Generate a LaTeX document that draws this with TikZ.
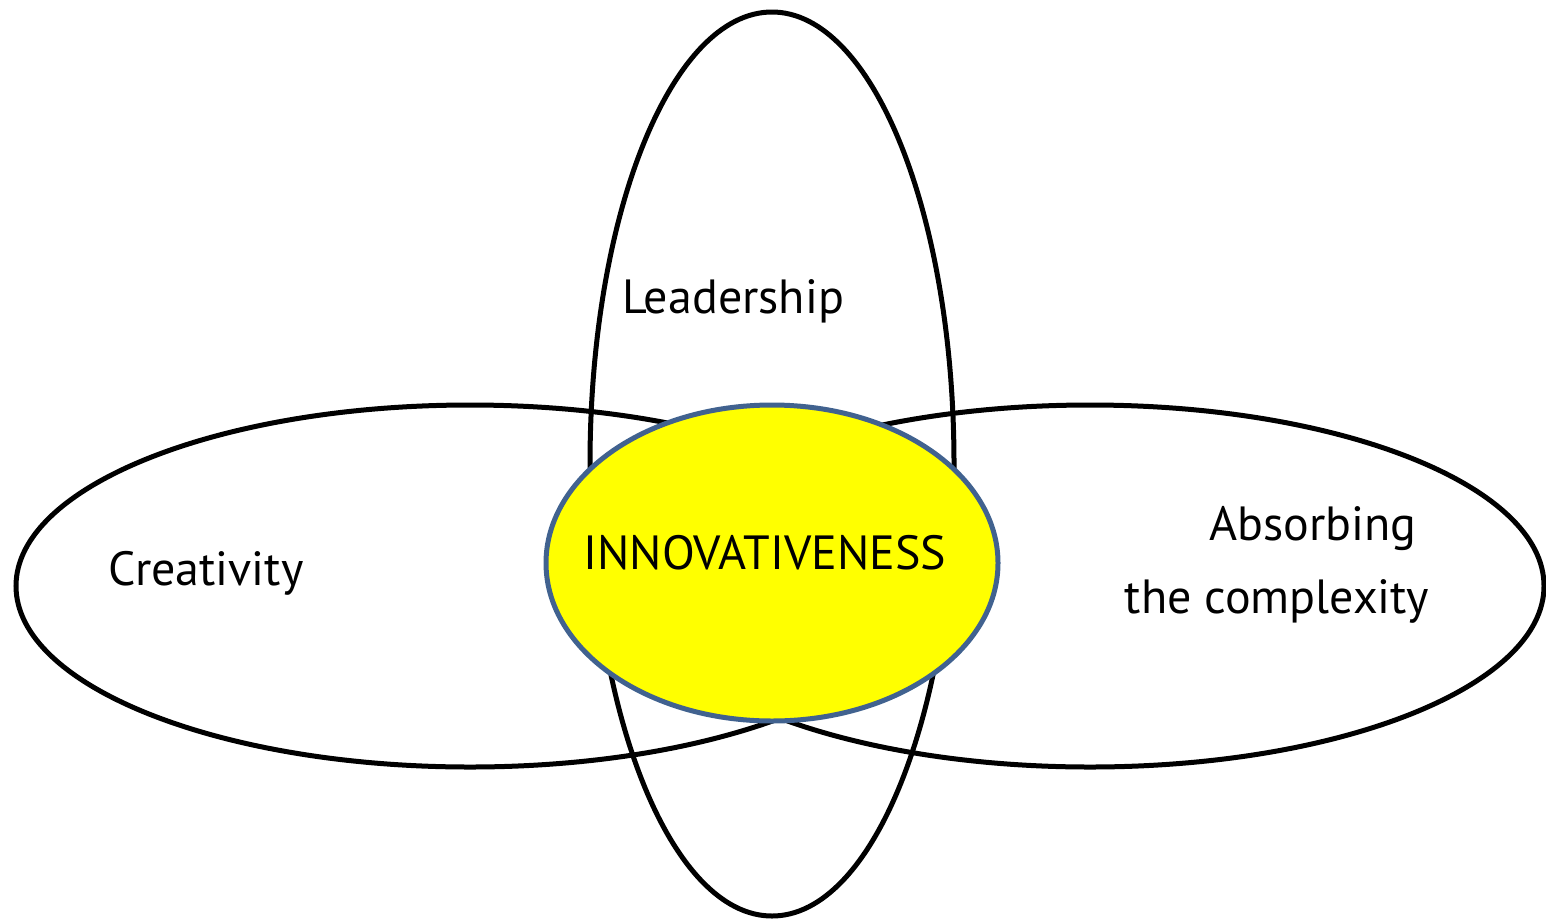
\documentclass[tikz,border=0pt]{standalone}
\usepackage{fontspec}
\setmainfont{PT Sans}
\definecolor{rimblue}{HTML}{41628F}
\definecolor{coreyellow}{HTML}{FFFF00}
\begin{document}
\begin{tikzpicture}[x=1pt,y=-1pt,
  petal/.style={draw=black,line width=5pt},
  core/.style={draw=rimblue,fill=coreyellow,line width=5pt},
  lbl/.style={font=\fontsize{48}{58}\selectfont,inner sep=0pt,anchor=base}]
\useasboundingbox (0,0) rectangle (1546,919);
\draw[petal] (470,586) ellipse [x radius=454, y radius=181];
\draw[petal] (1090,586) ellipse [x radius=454, y radius=181];
\draw[petal] (772,464) ellipse [x radius=182, y radius=452];
\draw[core] (772,563) ellipse [x radius=226, y radius=158];
\node[lbl] (lead) at (733,313) {Leadership};
\node[lbl] (crea) at (206,585) {Creativity};
\node[lbl] (inno) at (765,569) {INNOVATIVENESS};
\node[lbl] (abs1) at (1313,540) {Absorbing};
\node[lbl] (abs2) at (1277,613) {the complexity};
\end{tikzpicture}
\end{document}
